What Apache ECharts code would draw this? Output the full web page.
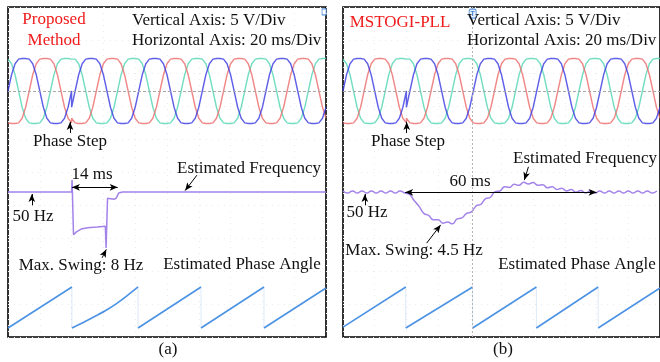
<!DOCTYPE html>
<html>
<head>
<meta charset="utf-8">
<script src="https://cdn.jsdelivr.net/npm/echarts@6/dist/echarts.min.js"></script>
<style>
  html, body { margin: 0; padding: 0; background: #fff; }
  #chart { width: 660px; height: 362px; }
</style>
</head>
<body>
<div id="chart"></div>
<script>
// ---- recorded signals -------------------------------------------------
// three-phase voltages, per unit, one sample every 20 degrees of a 50 Hz cycle
const voltStepMs = 10 / 9;
const jumpMs = 20;               // instant of the phase step (-20 deg)

// 0 .. 20 ms (before the step)
const vaPre = [0, 0.50, 0.84, 0.98, 1.00, 1.00, 0.98, 0.84, 0.50, 0, -0.50, -0.84, -0.98, -1.00, -1.00, -0.98, -0.84, -0.50, 0];
const vbPre = [-0.98, -1.00, -1.00, -0.98, -0.84, -0.50, 0, 0.50, 0.84, 0.98, 1.00, 1.00, 0.98, 0.84, 0.50, 0, -0.50, -0.84, -0.98];
const vcPre = [0.98, 0.84, 0.50, 0, -0.50, -0.84, -0.98, -1.00, -1.00, -0.98, -0.84, -0.50, 0, 0.50, 0.84, 0.98, 1.00, 1.00, 0.98];

// 20 .. 100 ms (after the step)
const vaPost = [-0.50,
  0, 0.50, 0.84, 0.98, 1.00, 1.00, 0.98, 0.84, 0.50, 0, -0.50, -0.84, -0.98, -1.00, -1.00, -0.98, -0.84, -0.50,
  0, 0.50, 0.84, 0.98, 1.00, 1.00, 0.98, 0.84, 0.50, 0, -0.50, -0.84, -0.98, -1.00, -1.00, -0.98, -0.84, -0.50,
  0, 0.50, 0.84, 0.98, 1.00, 1.00, 0.98, 0.84, 0.50, 0, -0.50, -0.84, -0.98, -1.00, -1.00, -0.98, -0.84, -0.50,
  0, 0.50, 0.84, 0.98, 1.00, 1.00, 0.98, 0.84, 0.50, 0, -0.50, -0.84, -0.98, -1.00, -1.00, -0.98, -0.84, -0.50];
const vbPost = [-0.84, -0.98, -1.00, -1.00, -0.98, -0.84, -0.50,
  0, 0.50, 0.84, 0.98, 1.00, 1.00, 0.98, 0.84, 0.50, 0, -0.50, -0.84, -0.98, -1.00, -1.00, -0.98, -0.84, -0.50,
  0, 0.50, 0.84, 0.98, 1.00, 1.00, 0.98, 0.84, 0.50, 0, -0.50, -0.84, -0.98, -1.00, -1.00, -0.98, -0.84, -0.50,
  0, 0.50, 0.84, 0.98, 1.00, 1.00, 0.98, 0.84, 0.50, 0, -0.50, -0.84, -0.98, -1.00, -1.00, -0.98, -0.84, -0.50,
  0, 0.50, 0.84, 0.98, 1.00, 1.00, 0.98, 0.84, 0.50, 0, -0.50, -0.84];
const vcPost = [1.00, 0.98, 0.84, 0.50, 0, -0.50, -0.84, -0.98, -1.00, -1.00, -0.98, -0.84, -0.50,
  0, 0.50, 0.84, 0.98, 1.00, 1.00, 0.98, 0.84, 0.50, 0, -0.50, -0.84, -0.98, -1.00, -1.00, -0.98, -0.84, -0.50,
  0, 0.50, 0.84, 0.98, 1.00, 1.00, 0.98, 0.84, 0.50, 0, -0.50, -0.84, -0.98, -1.00, -1.00, -0.98, -0.84, -0.50,
  0, 0.50, 0.84, 0.98, 1.00, 1.00, 0.98, 0.84, 0.50, 0, -0.50, -0.84, -0.98, -1.00, -1.00, -0.98, -0.84, -0.50,
  0, 0.50, 0.84, 0.98, 1.00, 1.00];

// estimated frequency, proposed method (Hz)
const freqATimeMs = [0, 20.0, 20.15, 20.6, 21.5, 23, 25, 28, 30.6, 30.85, 31.3, 33.3, 34.0, 34.8, 36, 100];
const freqAHz     = [50, 50, 51.7, 43.9, 44.3, 44.7, 44.9, 45.0, 45.1, 42.0, 49.1, 48.95, 49.1, 49.85, 50, 50];

// estimated frequency, MSTOGI-PLL (Hz), one sample every 1.5 ms
const freqBStepMs = 1.5;
const freqBHz = [50.15, 49.85, 50.15, 49.85, 50.15, 49.85, 50.15, 49.85, 50.15, 49.85, 50.15, 49.85, 50.15, 49.85,
  49.65, 48.75, 47.95, 46.95, 46.65, 46.05, 46.05, 45.55, 45.7, 45.45,
  46.15, 46.3, 46.95, 47.15, 48.0, 48.25, 49.05, 49.25, 50.05, 50.15,
  50.75, 50.65, 51.1, 50.95, 51.4, 51.15, 51.35, 50.95, 51.05, 50.6,
  50.75, 50.35, 50.55, 50.15, 50.35, 49.95, 50.2,
  49.85, 50.15, 49.85, 50.15, 49.85, 50.15, 49.85, 50.15, 49.85, 50.15, 49.85, 50.15, 49.85, 50.15, 49.85, 50.15];

// estimated phase angle (degrees)
const angleATimeMs = [0, 20.1, 20.1, 22, 25, 28, 31, 34, 37.5, 40.9, 40.9, 60.7, 60.7, 80.5, 80.5, 100];
const angleADeg    = [0, 360, 0, 26, 68, 112, 158, 212, 284, 360, 0, 360, 0, 360, 0, 351];
const angleBTimeMs = [0, 19.8, 19.8, 40.9, 40.9, 61.0, 61.0, 80.5, 80.5, 100];
const angleBDeg    = [8, 360, 0, 360, 0, 360, 0, 360, 0, 351];

const cursorBMs = 40.9;

// ---- layout --------------------------------------------------------------
const panelLeft = [8, 343];
const panelWidth = 318;
const frame = { top: 7, height: 330 };
const voltBox = { top: 45.5, height: 91, min: -1.4, max: 1.4 };
const freqBox = { top: 150, height: 112, min: 40, max: 56 };
const angleBox = { top: 284.7, height: 45.6, min: -20, max: 380 };

const colBlue = 'rgba(55,55,225,0.8)';
const colRed = 'rgba(236,105,105,0.8)';
const colTeal = 'rgba(80,212,178,0.8)';
const colFreq = '#a383ea';
const colAngle = '#4d93e4';
const serif = '"Liberation Serif", "Times New Roman", serif';

function voltData(pre, post) {
  const out = [];
  pre.forEach((v, i) => out.push([i * voltStepMs, v]));
  post.forEach((v, j) => out.push([jumpMs + j * voltStepMs, v]));
  return out;
}
function pairs(t, v) { return t.map((x, i) => [x, v[i]]); }
function sawRamps(t, v) {
  const out = [];
  for (let i = 0; i < t.length; i++) {
    if (i > 0 && t[i] === t[i - 1]) out.push([t[i], '-']);
    out.push([t[i], v[i]]);
  }
  return out;
}
function arrow(p1, p2, both) {
  return {
    silent: true, animation: false,
    symbol: both ? ['arrow', 'arrow'] : ['none', 'arrow'],
    symbolSize: [5, 8],
    label: { show: false },
    lineStyle: { color: '#000', width: 1, type: 'solid' },
    data: [[{ coord: p1 }, { coord: p2 }]]
  };
}

const grids = [], xAxes = [], yAxes = [], series = [];

function addGrid(left, box, axisCfg) {
  grids.push({ left: left, width: panelWidth, top: box.top, height: box.height,
               containLabel: false, show: !!axisCfg.frame,
               borderColor: '#000', borderWidth: 1.6, backgroundColor: '#fff' });
  const idx = grids.length - 1;
  xAxes.push(Object.assign({ gridIndex: idx, type: 'value', min: 0, max: 100, show: false }, axisCfg.x || {}));
  yAxes.push(Object.assign({ gridIndex: idx, type: 'value', min: box.min, max: box.max, show: false }, axisCfg.y || {}));
  return idx;
}

const dotted = { show: true, lineStyle: { color: '#ebebeb', width: 1, type: [1, 5] } };

const panelSignals = [
  { freq: pairs(freqATimeMs, freqAHz), angleT: angleATimeMs, angleV: angleADeg },
  { freq: freqBHz.map((f, i) => [i * freqBStepMs, f]), angleT: angleBTimeMs, angleV: angleBDeg }
];

panelSignals.forEach((sig, p) => {
  const left = panelLeft[p];
  // scope screen with its dotted graticule
  const gF = addGrid(left, { top: frame.top, height: frame.height, min: 0, max: 10 }, {
    frame: true,
    x: { show: true, interval: 10, axisLine: { show: false }, axisTick: { show: false },
         axisLabel: { show: false }, splitLine: dotted },
    y: { show: true, interval: 1, axisLine: { show: false }, axisTick: { show: false },
         axisLabel: { show: false }, splitLine: dotted }
  });
  const frameSeries = { type: 'line', xAxisIndex: gF, yAxisIndex: gF, data: [], silent: true };
  if (p === 1) {
    frameSeries.markLine = {
      silent: true, symbol: 'none', animation: false, label: { show: false },
      lineStyle: { color: '#b5b5b5', width: 1, type: [2, 2] },
      data: [{ xAxis: cursorBMs }]
    };
    // trigger marker on top of the cursor
    frameSeries.markPoint = {
      silent: true, animation: false,
      symbol: 'roundRect', symbolSize: [7, 9],
      itemStyle: { color: '#e9f1fb', borderColor: '#5d97dc', borderWidth: 1 },
      label: { show: true, formatter: 'T', color: '#3f7fd0', fontSize: 7, fontWeight: 'bold' },
      data: [{ coord: [cursorBMs, 9.8] }]
    };
  } else {
    frameSeries.markPoint = {
      silent: true, animation: false,
      symbol: 'rect', symbolSize: [4, 6],
      itemStyle: { color: '#fff', borderColor: '#5d97dc', borderWidth: 1 },
      label: { show: false },
      data: [{ coord: [99.4, 9.85] }]
    };
  }
  series.push(frameSeries);

  // phase voltages
  const gV = addGrid(left, voltBox, {});
  [[vcPre, vcPost, colTeal], [vbPre, vbPost, colRed], [vaPre, vaPost, colBlue]].forEach((ph, k) => {
    const s = {
      type: 'line', xAxisIndex: gV, yAxisIndex: gV, data: voltData(ph[0], ph[1]),
      showSymbol: false, symbol: 'none', smooth: false, clip: false,
      lineStyle: { color: ph[2], width: 1.4 }, z: 3
    };
    if (k === 0) {
      s.markLine = {
        silent: true, symbol: 'none', animation: false, label: { show: false },
        lineStyle: { color: '#a8a8a8', width: 1, type: [3, 2] },
        data: [{ yAxis: 0 }]
      };
    }
    series.push(s);
  });
  // phase-step pointer
  series.push({ type: 'line', xAxisIndex: gV, yAxisIndex: gV, data: [], silent: true,
                markLine: arrow([p === 0 ? 19.5 : 20.1, -1.29], [p === 0 ? 19.5 : 20.1, -0.95]) });

  // estimated frequency
  const gQ = addGrid(left, freqBox, {});
  series.push({
    type: 'line', xAxisIndex: gQ, yAxisIndex: gQ, data: sig.freq,
    showSymbol: false, symbol: 'none', smooth: p === 1 ? 0.5 : false, clip: false,
    lineStyle: { color: colFreq, width: 1.5 }, z: 3
  });
  if (p === 0) {
    series.push({ type: 'line', xAxisIndex: gQ, yAxisIndex: gQ, data: [], markLine: arrow([20.1, 50.67], [34.5, 50.67], true) });
    series.push({ type: 'line', xAxisIndex: gQ, yAxisIndex: gQ, data: [], markLine: arrow([59.4, 52.4], [55.7, 50.2]) });
    series.push({ type: 'line', xAxisIndex: gQ, yAxisIndex: gQ, data: [], markLine: arrow([7.5, 48.1], [7.5, 49.7]) });
    series.push({ type: 'line', xAxisIndex: gQ, yAxisIndex: gQ, data: [], markLine: arrow([29.6, 40.6], [30.9, 41.8]) });
  } else {
    series.push({ type: 'line', xAxisIndex: gQ, yAxisIndex: gQ, data: [], markLine: arrow([19.6, 49.95], [80.0, 49.95], true) });
    series.push({ type: 'line', xAxisIndex: gQ, yAxisIndex: gQ, data: [], markLine: arrow([58.5, 53.6], [57.2, 51.7]) });
    series.push({ type: 'line', xAxisIndex: gQ, yAxisIndex: gQ, data: [], markLine: arrow([6.9, 48.1], [6.9, 49.7]) });
    series.push({ type: 'line', xAxisIndex: gQ, yAxisIndex: gQ, data: [], markLine: arrow([26.4, 42.7], [30.8, 45.3]) });
  }

  // estimated phase angle
  const gA = addGrid(left, angleBox, {});
  series.push({
    type: 'line', xAxisIndex: gA, yAxisIndex: gA, data: pairs(sig.angleT, sig.angleV),
    showSymbol: false, symbol: 'none', clip: false,
    lineStyle: { color: colAngle, width: 1, opacity: 0.2 }, z: 2
  });
  series.push({
    type: 'line', xAxisIndex: gA, yAxisIndex: gA, data: sawRamps(sig.angleT, sig.angleV),
    showSymbol: false, symbol: 'none', clip: false, connectNulls: false, smooth: 0.2,
    lineStyle: { color: colAngle, width: 1.6 }, z: 3,
    markLine: arrow([53.1, 483], [53.1, 310])
  });
});

// ---- text -----------------------------------------------------------------
function txt(text, x, y, opts) {
  opts = opts || {};
  return {
    type: 'text', x: x, y: y, silent: true, z: 100,
    style: {
      text: text, fill: opts.color || '#111',
      font: (opts.size || 17) + 'px ' + serif,
      textAlign: opts.align || 'center', align: opts.align || 'center',
      textVerticalAlign: 'middle', verticalAlign: 'middle'
    }
  };
}
const red = '#f01a1a';
const graphic = [
  txt('Proposed', 54, 20, { color: red, size: 17 }),
  txt('Method', 54, 41, { color: red, size: 17 }),
  txt('Vertical Axis: 5 V/Div', 132, 21, { align: 'left' }),
  txt('Horizontal Axis: 20 ms/Div', 132, 41, { align: 'left' }),
  txt('Phase Step', 70, 142),
  txt('14 ms', 92, 175),
  txt('Estimated Frequency', 249, 169),
  txt('50 Hz', 33, 217),
  txt('Max. Swing: 8 Hz', 81, 266),
  txt('Estimated Phase Angle', 242, 265),
  txt('(a)', 168, 350),

  txt('MSTOGI-PLL', 400, 23, { color: red, size: 17 }),
  txt('Vertical Axis: 5 V/Div', 467, 21, { align: 'left' }),
  txt('Horizontal Axis: 20 ms/Div', 467, 41, { align: 'left' }),
  txt('Phase Step', 408, 142),
  txt('Estimated Frequency', 585, 159),
  txt('60 ms', 470, 182),
  txt('50 Hz', 367, 213),
  txt('Max. Swing: 4.5 Hz', 414, 251),
  txt('Estimated Phase Angle', 577, 265),
  txt('(b)', 503, 350)
];

const chart = echarts.init(document.getElementById('chart'));
chart.setOption({
  animation: false,
  backgroundColor: '#fff',
  grid: grids,
  xAxis: xAxes,
  yAxis: yAxes,
  series: series,
  graphic: graphic
});
</script>
</body>
</html>
